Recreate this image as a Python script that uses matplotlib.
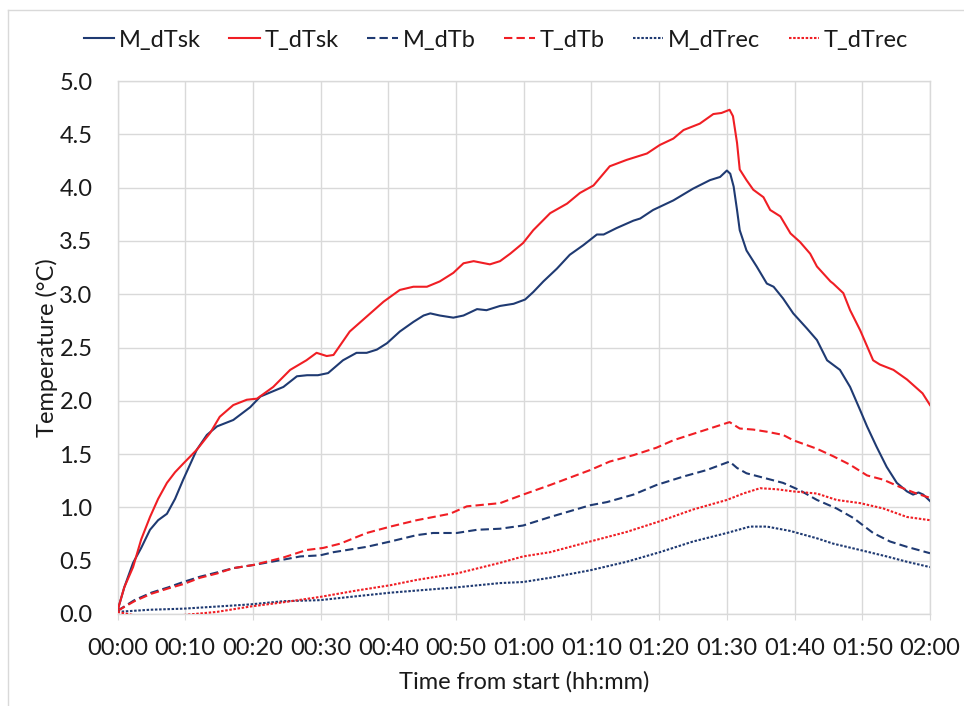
import matplotlib
matplotlib.use("Agg")
import matplotlib.pyplot as plt
from matplotlib.lines import Line2D

plt.rcParams['font.family'] = ['Lato', 'DejaVu Sans']

# Elapsed time in minutes and temperature change (°C) for each series
m_dtsk_t = [0, 1, 2.3, 3.5, 4.8, 6, 7.3, 8.5, 9.7, 11.7, 13.2, 14.7, 17.1, 19.6, 21.1, 24.5, 26.5, 28, 29.6,
            31.1, 33.3, 35.3, 36.8, 38.3, 39.8, 41.7, 43.7, 45.2, 46.2, 47.6, 49.6, 51.1, 53.1, 54.5, 56.5,
            58.5, 60.2, 61.4, 62.9, 64.9, 66.8, 68.8, 70.8, 71.8, 73.7, 76.2, 77.2, 79.1, 82.1, 85.0, 87.5,
            89.0, 90.0, 90.5, 91.0, 91.5, 91.9, 92.9, 94.4, 95.9, 96.9, 98.3, 99.8, 101.8, 103.3, 104.8,
            106.7, 108.2, 109.7, 110.7, 112.1, 113.6, 115.1, 116.6, 117.5, 118.3, 119.0, 120]
m_dtsk = [0.03, 0.25, 0.48, 0.62, 0.79, 0.88, 0.94, 1.08, 1.26, 1.54, 1.68, 1.76, 1.82, 1.94, 2.04, 2.13,
          2.23, 2.24, 2.24, 2.26, 2.38, 2.45, 2.45, 2.48, 2.54, 2.65, 2.74, 2.80, 2.82, 2.80, 2.78, 2.80,
          2.86, 2.85, 2.89, 2.91, 2.95, 3.02, 3.12, 3.24, 3.37, 3.46, 3.56, 3.56, 3.62, 3.69, 3.71, 3.79,
          3.88, 3.99, 4.07, 4.10, 4.16, 4.13, 4.01, 3.79, 3.60, 3.41, 3.26, 3.10, 3.07, 2.96, 2.82, 2.68,
          2.57, 2.38, 2.29, 2.13, 1.91, 1.76, 1.57, 1.38, 1.23, 1.15, 1.12, 1.14, 1.12, 1.06]

t_dtsk_t = [0, 1, 2.3, 3.5, 4.8, 6, 7.3, 8.5, 9.7, 11.7, 13.7, 15.1, 17.1, 19.1, 20.6, 23.0, 25.5, 27.9,
            29.4, 30.9, 31.9, 34.3, 36.8, 39.3, 41.7, 43.7, 45.7, 47.6, 49.6, 51.1, 52.6, 55.0, 56.5, 58.0,
            59.9, 61.4, 63.9, 66.4, 68.3, 70.3, 72.7, 75.2, 78.2, 80.1, 82.1, 83.6, 86.0, 88.0, 89.2, 90.4,
            90.9, 91.5, 91.9, 92.9, 93.9, 95.4, 96.4, 97.9, 99.4, 100.8, 102.3, 103.3, 105.3, 105.7, 107.2,
            108.2, 109.7, 111.6, 112.6, 114.6, 116.6, 118.9, 120]
t_dtsk = [0.03, 0.25, 0.44, 0.70, 0.91, 1.08, 1.23, 1.33, 1.41, 1.54, 1.70, 1.85, 1.96, 2.01, 2.02, 2.13,
          2.29, 2.38, 2.45, 2.42, 2.43, 2.65, 2.79, 2.93, 3.04, 3.07, 3.07, 3.12, 3.20, 3.29, 3.31, 3.28,
          3.31, 3.38, 3.48, 3.60, 3.76, 3.85, 3.95, 4.02, 4.20, 4.26, 4.32, 4.40, 4.46, 4.54, 4.60, 4.69,
          4.70, 4.73, 4.67, 4.42, 4.17, 4.07, 3.98, 3.91, 3.79, 3.73, 3.57, 3.49, 3.38, 3.26, 3.12, 3.10,
          3.01, 2.85, 2.66, 2.38, 2.34, 2.29, 2.20, 2.07, 1.96]

m_dtb_t = [0, 2.5, 5, 7.5, 9.7, 12.2, 14.7, 17.1, 20.1, 24.5, 27.0, 29.9, 31.9, 36.8, 40.3, 44.2, 46.6,
           50.1, 53.1, 56.5, 59.9, 63.9, 69.8, 72.3, 76.2, 79.6, 83.6, 87.0, 90.4, 91.5, 92.9, 95.9, 98.3,
           100.8, 103.3, 106.2, 108.7, 111.6, 114.1, 116.6, 120]
m_dtb = [0.03, 0.13, 0.20, 0.25, 0.30, 0.35, 0.39, 0.43, 0.46, 0.51, 0.54, 0.55, 0.58, 0.63, 0.68, 0.74,
         0.76, 0.76, 0.79, 0.80, 0.83, 0.91, 1.02, 1.05, 1.12, 1.21, 1.29, 1.35, 1.43, 1.37, 1.32, 1.27,
         1.23, 1.16, 1.07, 0.99, 0.90, 0.76, 0.68, 0.63, 0.57]

t_dtb_t = [0, 2.5, 5, 7.5, 9.7, 12.2, 14.7, 17.1, 20.1, 24.5, 27.9, 30.4, 32.9, 36.8, 40.3, 44.2, 49.1,
           51.6, 56.5, 59.9, 63.9, 69.8, 72.7, 76.2, 79.6, 82.1, 86.0, 90.4, 91.9, 93.9, 95.9, 98.3, 99.8,
           103.3, 105.7, 108.2, 110.7, 113.1, 115.6, 118.0, 120]
t_dtb = [0.03, 0.12, 0.19, 0.24, 0.28, 0.34, 0.38, 0.43, 0.46, 0.53, 0.60, 0.62, 0.66, 0.76, 0.82, 0.88,
         0.94, 1.01, 1.04, 1.12, 1.21, 1.35, 1.43, 1.49, 1.56, 1.63, 1.71, 1.80, 1.74, 1.73, 1.71, 1.68,
         1.63, 1.55, 1.48, 1.40, 1.30, 1.26, 1.19, 1.13, 1.09]

m_dtrec_t = [0, 4.8, 9.7, 14.7, 19.6, 24.5, 29.9, 34.3, 40.3, 44.2, 50.1, 56.5, 59.9, 63.9, 69.8, 75.2,
             80.1, 85.0, 90.0, 93.4, 95.9, 99.3, 103.3, 105.7, 109.7, 113.6, 116.6, 120]
m_dtrec = [0.02, 0.04, 0.05, 0.07, 0.09, 0.12, 0.13, 0.16, 0.20, 0.22, 0.25, 0.29, 0.30, 0.34, 0.41, 0.49,
           0.58, 0.68, 0.76, 0.82, 0.82, 0.78, 0.71, 0.66, 0.60, 0.54, 0.49, 0.44]

t_dtrec_t = [0, 2.3, 5.8, 9.7, 14.7, 19.6, 24.5, 29.9, 35.3, 40.3, 44.2, 50.1, 56.5, 59.9, 63.9, 69.8,
             75.2, 80.1, 85.0, 90.0, 92.4, 94.9, 97.4, 99.8, 103.3, 106.2, 109.7, 113.1, 116.6, 120]
t_dtrec = [0.02, -0.01, -0.02, -0.01, 0.02, 0.07, 0.11, 0.16, 0.22, 0.27, 0.32, 0.38, 0.48, 0.54, 0.58,
           0.68, 0.77, 0.87, 0.98, 1.07, 1.13, 1.18, 1.17, 1.15, 1.13, 1.07, 1.04, 0.99, 0.91, 0.88]

x_ticks = [0, 10, 20, 30, 40, 50, 60, 70, 80, 90, 100, 110, 120]
x_tick_labels = ['00:00', '00:10', '00:20', '00:30', '00:40', '00:50', '01:00',
                 '01:10', '01:20', '01:30', '01:40', '01:50', '02:00']
y_ticks = [0.0, 0.5, 1.0, 1.5, 2.0, 2.5, 3.0, 3.5, 4.0, 4.5, 5.0]

NAVY = '#1f3a72'
RED = '#f01e24'
GRID = '#d9d9d9'
TXT = '#1a1a1a'
FS = 17

fig = plt.figure(figsize=(9.64, 7.06), dpi=100)
ax = fig.add_axes([117.5 / 964, 92 / 706, 812.5 / 964, 533 / 706])

lw = 1.5
series = [
    ('M_dTsk', m_dtsk_t, m_dtsk, NAVY, '-'),
    ('T_dTsk', t_dtsk_t, t_dtsk, RED, '-'),
    ('M_dTb', m_dtb_t, m_dtb, NAVY, (0, (4, 2))),
    ('T_dTb', t_dtb_t, t_dtb, RED, (0, (4, 2))),
    ('M_dTrec', m_dtrec_t, m_dtrec, NAVY, (0, (1.2, 0.8))),
    ('T_dTrec', t_dtrec_t, t_dtrec, RED, (0, (1.2, 0.8))),
]
handles = []
for name, tx, vy, col, ls in series:
    ax.plot(tx, vy, color=col, linestyle=ls, linewidth=lw, label=name, zorder=3)
    handles.append(Line2D([0], [0], color=col, linestyle=ls, linewidth=lw))

ax.set_xlim(0, 120)
ax.set_ylim(0, 5)
ax.set_xticks(x_ticks)
ax.set_xticklabels(x_tick_labels)
ax.set_yticks(y_ticks)
ax.set_yticklabels([f'{v:.1f}' for v in y_ticks])
ax.grid(True, color=GRID, linewidth=1.0, zorder=0)
ax.set_axisbelow(True)
for s in ax.spines.values():
    s.set_color(GRID)
    s.set_linewidth(1.0)
ax.tick_params(axis='x', length=4, color=GRID, pad=13, labelsize=FS, labelcolor=TXT)
ax.tick_params(axis='y', length=0, pad=18, labelsize=FS, labelcolor=TXT)

ax.set_xlabel('Time from start (hh:mm)', fontsize=FS, color=TXT, labelpad=9)
ax.set_ylabel('Temperature (°C)', fontsize=FS, color=TXT, labelpad=1)

fig.legend(handles, [s[0] for s in series], loc='center', bbox_to_anchor=(496 / 964, 1 - 40 / 706),
           ncol=6, frameon=False, fontsize=FS, handlelength=1.3, handletextpad=0.2,
           columnspacing=1.2, labelcolor=TXT)

# light chart-area border along the left and top edges
fig.add_artist(Line2D([8 / 964, 8 / 964], [0, 1 - 10 / 706], transform=fig.transFigure,
                      color=GRID, linewidth=1.0))
fig.add_artist(Line2D([8 / 964, 1], [1 - 10 / 706, 1 - 10 / 706], transform=fig.transFigure,
                      color=GRID, linewidth=1.0))

fig.savefig('out.png', dpi=100)
